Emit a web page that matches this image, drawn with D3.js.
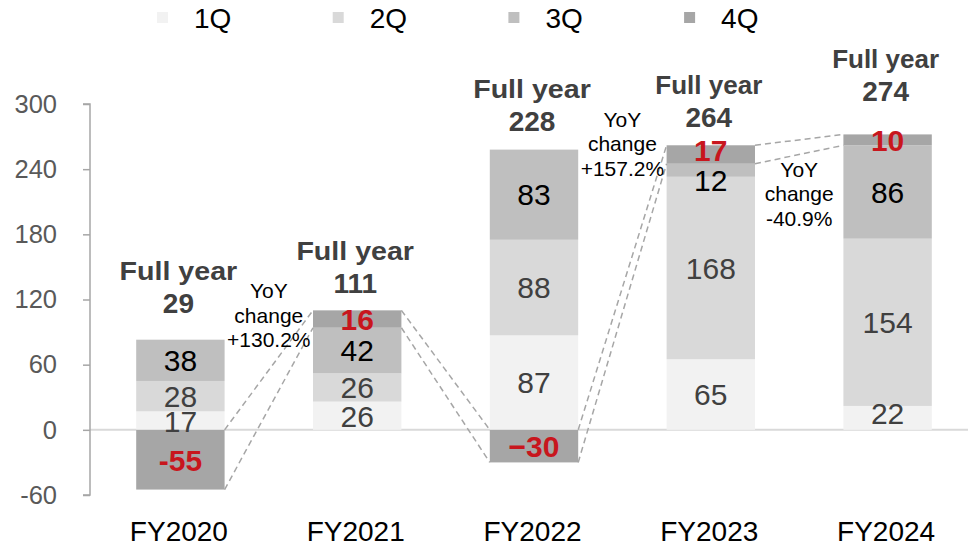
<!DOCTYPE html>
<html>
<head>
<meta charset="utf-8">
<script src="https://cdn.jsdelivr.net/npm/d3@7/dist/d3.min.js"></script>
<style>
  html, body { margin: 0; padding: 0; background: #fff; }
  svg { display: block; font-family: "Liberation Sans", Arial, sans-serif; }
</style>
</head>
<body>
<svg id="chart" width="968" height="547"></svg>
<script>
// Fiscal years and quarterly results
const years = ["FY2020", "FY2021", "FY2022", "FY2023", "FY2024"];
const quarters = ["1Q", "2Q", "3Q", "4Q"];
const q1 = [17, 26, 87, 65, 22];
const q2 = [28, 26, 88, 168, 154];
const q3 = [38, 42, 83, 12, 86];
const q4 = [-55, 16, -30, 17, 10];
const fullYear = [29, 111, 228, 264, 274];
// Year-over-year change shown between consecutive years (null = none)
const yoyChange = ["+130.2%", null, "+157.2%", "-40.9%"];
const yTicks = [-60, 0, 60, 120, 180, 240, 300];

// Layout settings
const quarterColors = ["#f2f2f2", "#d9d9d9", "#bfbfbf", "#a6a6a6"];
const labelColors = ["#404040", "#404040", "#000000", "#c8161d"];
const headlineGap = [27, 17, 19, 18, 33];          // px between total and bar top
const headlineStretch = [1.1, 1.1, 1.1, 1.0, 1.0];
const yoyAnchor = [121, null, 279, 233];            // y-value of first YoY line
const negGlyph = ["-", "-", "\u2212", "-", "-"];
const labelNudge = { "3-2": 10, "3-3": -4, "4-0": -5, "0-0": 1 };

const svg = d3.select("#chart");

const rows = years.map((y, i) => ({ year: y, "1Q": q1[i], "2Q": q2[i], "3Q": q3[i], "4Q": q4[i] }));
const series = d3.stack().keys(quarters).offset(d3.stackOffsetDiverging)(rows);

const x = d3.scaleBand().domain(years).range([92, 976]).paddingInner(0.5).paddingOuter(0.25);
const y = d3.scaleLinear().domain([-60, 300]).range([495, 104]);
const bw = x.bandwidth();

// Zero baseline
svg.append("line")
  .attr("x1", 90).attr("x2", 968)
  .attr("y1", y(0)).attr("y2", y(0))
  .attr("stroke", "#d9d9d9").attr("stroke-width", 2);

// Y axis
const yAxis = svg.append("g")
  .attr("transform", "translate(90,0)")
  .call(d3.axisLeft(y).tickValues(yTicks).tickSize(7).tickPadding(26).tickFormat(d3.format("d")));
yAxis.select(".domain").attr("stroke", "#a6a6a6").attr("stroke-width", 1.5)
  .attr("d", `M-7,${y(300)}H0V${y(-60)}H-7`);
yAxis.selectAll(".tick line").attr("stroke", "#a6a6a6").attr("stroke-width", 1.5);
yAxis.selectAll(".tick text")
  .attr("fill", "#595959")
  .attr("font-size", "25.5px")
  .attr("font-family", "Liberation Sans, Arial, sans-serif")
  .text(d => String(d));

// Stacked bars
const layers = svg.append("g").selectAll("g")
  .data(series).join("g")
  .attr("fill", (d, k) => quarterColors[k]);
layers.selectAll("rect")
  .data(d => d)
  .join("rect")
  .attr("x", d => x(d.data.year))
  .attr("width", bw)
  .attr("y", d => y(Math.max(d[0], d[1])))
  .attr("height", d => Math.abs(y(d[0]) - y(d[1])));

// Dashed connectors between consecutive 4Q segments
const q4Series = series[3];
const connectors = svg.append("g");
for (let i = 0; i < years.length - 1; i++) {
  const a = q4Series[i], b = q4Series[i + 1];
  const aTop = y(Math.max(a[0], a[1])), aBot = y(Math.min(a[0], a[1]));
  const bTop = y(Math.max(b[0], b[1])), bBot = y(Math.min(b[0], b[1]));
  const xa = x(years[i]) + bw, xb = x(years[i + 1]);
  [[aTop, bTop], [aBot, bBot]].forEach(([ya, yb]) => {
    connectors.append("line")
      .attr("x1", xa).attr("y1", ya).attr("x2", xb).attr("y2", yb)
      .attr("stroke", "#a6a6a6").attr("stroke-width", 1.5)
      .attr("stroke-dasharray", "6,4");
  });
}

// Segment value labels
series.forEach((s, k) => {
  s.forEach((d, i) => {
    const v = d.data[quarters[k]];
    const cy = (y(d[0]) + y(d[1])) / 2 + (labelNudge[`${i}-${k}`] || 0);
    svg.append("text")
      .attr("x", x(years[i]) + bw / 2)
      .attr("y", cy)
      .attr("dy", "0.36em")
      .attr("text-anchor", "middle")
      .attr("font-size", "30px")
      .attr("font-weight", k === 3 ? "bold" : "normal")
      .attr("fill", labelColors[k])
      .text(v < 0 ? negGlyph[i] + Math.abs(v) : String(v));
  });
});

// Full-year headlines
years.forEach((yr, i) => {
  const top = d3.min(series, s => y(Math.max(s[i][0], s[i][1])));
  const base = top - headlineGap[i];
  const cx = x(yr) + bw / 2 - 2;
  svg.append("text")
    .attr("transform", `translate(${cx},${base - 33}) scale(${headlineStretch[i]},1)`)
    .attr("text-anchor", "middle")
    .attr("font-size", "26px")
    .attr("font-weight", "bold")
    .attr("fill", "#404040")
    .text("Full year");
  svg.append("text")
    .attr("x", cx).attr("y", base)
    .attr("text-anchor", "middle")
    .attr("font-size", "28px")
    .attr("font-weight", "bold")
    .attr("fill", "#404040")
    .text(fullYear[i]);
});

// YoY change notes
yoyChange.forEach((txt, i) => {
  if (!txt) return;
  const cx = (x(years[i]) + bw + x(years[i + 1])) / 2;
  const t = svg.append("text")
    .attr("text-anchor", "middle")
    .attr("font-size", "21px")
    .attr("fill", "#000");
  ["YoY", "change", txt].forEach((line, j) => {
    t.append("tspan").attr("x", cx).attr("y", y(yoyAnchor[i]) + j * 24.5).text(line);
  });
});

// Category labels
years.forEach(yr => {
  svg.append("text")
    .attr("x", x(yr) + bw / 2 - 1.5)
    .attr("y", 541)
    .attr("text-anchor", "middle")
    .attr("font-size", "28px")
    .attr("fill", "#000")
    .text(yr);
});

// Legend
const legend = svg.append("g");
quarters.forEach((q, k) => {
  const lx = 157 + k * 175.7;
  legend.append("rect")
    .attr("x", lx).attr("y", 12).attr("width", 11).attr("height", 11)
    .attr("fill", quarterColors[k]);
  legend.append("text")
    .attr("x", lx + 37).attr("y", 28)
    .attr("font-size", "28px")
    .attr("fill", "#000")
    .text(q);
});
</script>
</body>
</html>
